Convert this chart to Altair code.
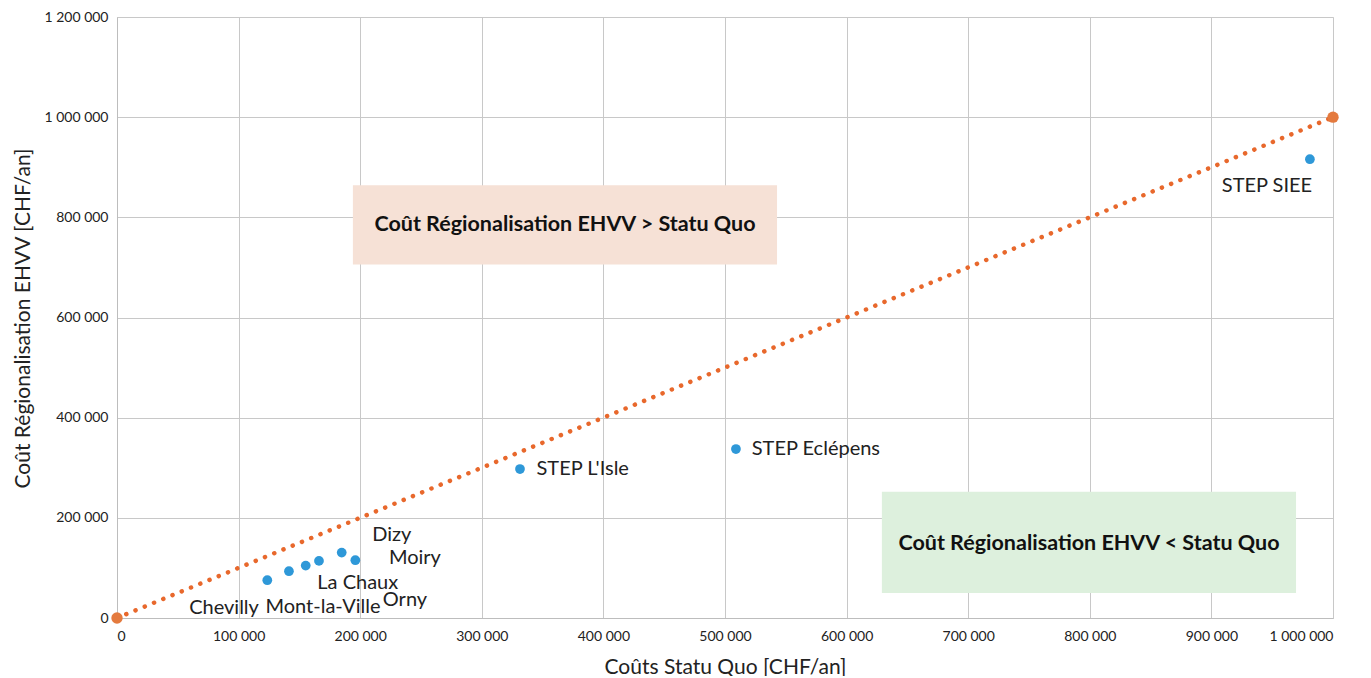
import altair as alt
import pandas as pd

# Points (Statu Quo cost, Regionalisation cost) in CHF/an
names = ["Chevilly", "Mont-la-Ville", "La Chaux", "Orny", "Dizy", "Moiry",
         "STEP L'Isle", "STEP Eclépens", "STEP SIEE"]
statu_quo = [123600, 141400, 155200, 166100, 184800, 196000, 331400, 509000, 981000]
regional = [75400, 93400, 104600, 114000, 130600, 115400, 297400, 337400, 916000]

# Label positions (data units) and alignment
label_text = ["Chevilly", "Mont-la-Ville", "La Chaux", "Orny", "Dizy", "Moiry",
              "STEP L'Isle", "STEP Eclépens", "STEP SIEE"]
label_x = [88000, 169400, 198000, 236800, 226000, 245000, 345000, 522000, 945700]
label_y = [20000, 22000, 70000, 36000, 166000, 120000, 298000, 338000, 862000]
label_align = ["center", "center", "center", "center", "center", "center",
               "left", "left", "center"]

# Parity line y = x
line_x = [0, 1000000]
line_y = [0, 1000000]

# Annotation boxes
box_x = [194000, 629000]
box_x2 = [542800, 969600]
box_y = [864000, 252000]
box_y2 = [706000, 50000]
box_fill = ["#F6E1D6", "#DDF0DD"]
box_text = ["Coût Régionalisation EHVV > Statu Quo", "Coût Régionalisation EHVV < Statu Quo"]
box_tx = [368400, 799300]
box_ty = [785000, 148000]

FONT = "Lato"
fmt = "replace(format(datum.value, ','), /,/g, ' ')"

xsc = alt.Scale(domain=[0, 1000000], nice=False)
ysc = alt.Scale(domain=[0, 1200000], nice=False)

pts = pd.DataFrame({"name": names, "x": statu_quo, "y": regional})
lbl = pd.DataFrame({"t": label_text, "x": label_x, "y": label_y, "a": label_align})
ln = pd.DataFrame({"x": line_x, "y": line_y})
bx = pd.DataFrame({"x": box_x, "x2": box_x2, "y": box_y, "y2": box_y2,
                   "fill": box_fill, "t": box_text, "tx": box_tx, "ty": box_ty})

xaxis = alt.Axis(values=list(range(0, 1000001, 100000)), labelExpr=fmt, ticks=False,
                 labelPadding=11, labelFontSize=14, labelFont=FONT, labelColor="#222",
                 title="Coûts Statu Quo [CHF/an]", titleFont=FONT, titleFontSize=21,
                 titleFontWeight="normal", titleColor="#222", titleY=49,
                 titleBaseline="middle",
                 gridColor="#C8C8C8", domainColor="#BDBDBD")
yaxis = alt.Axis(values=list(range(0, 1200001, 200000)), labelExpr=fmt, ticks=False,
                 labelPadding=9, labelFontSize=14, labelFont=FONT, labelColor="#222",
                 title="Coût Régionalisation EHVV [CHF/an]", titleFont=FONT, titleFontSize=21,
                 titleFontWeight="normal", titleColor="#222", titleX=-94, titleY=301,
                 titleBaseline="middle", titleAngle=270,
                 gridColor="#C8C8C8", domainColor="#BDBDBD")

base_x = alt.X("x:Q", scale=xsc, axis=xaxis)
base_y = alt.Y("y:Q", scale=ysc, axis=yaxis)

boxes = alt.Chart(bx).mark_rect().encode(
    x=alt.X("x:Q", scale=xsc, axis=xaxis), x2="x2", y=alt.Y("y:Q", scale=ysc, axis=yaxis), y2="y2",
    fill=alt.Fill("fill:N", scale=None))
box_labels = alt.Chart(bx).mark_text(font=FONT, fontSize=21.5, fontWeight="bold", color="#111").encode(
    x=alt.X("tx:Q", scale=xsc), y=alt.Y("ty:Q", scale=ysc), text="t:N")

parity = alt.Chart(ln).mark_line(color="#E8682C", strokeWidth=4.5, strokeCap="round",
                                 strokeDash=[0.1, 9.9]).encode(x=base_x, y=base_y)
ends = alt.Chart(ln).mark_circle(color="#E47A3E", size=130, opacity=1).encode(x=base_x, y=base_y)

points = alt.Chart(pts).mark_circle(color="#2E98D8", size=95, opacity=1).encode(x=base_x, y=base_y)

labels_c = alt.Chart(lbl).transform_filter("datum.a == 'center'").mark_text(
    font=FONT, fontSize=20, color="#222", align="center", baseline="middle").encode(
    x=alt.X("x:Q", scale=xsc), y=alt.Y("y:Q", scale=ysc), text="t:N")
labels_l = alt.Chart(lbl).transform_filter("datum.a == 'left'").mark_text(
    font=FONT, fontSize=20, color="#222", align="left", baseline="middle").encode(
    x=alt.X("x:Q", scale=xsc), y=alt.Y("y:Q", scale=ysc), text="t:N")

chart = alt.layer(boxes, box_labels, parity, ends, points, labels_c, labels_l).properties(
    width=1216, height=601,
    autosize=alt.AutoSizeParams(type="none"),
    padding={"left": 109, "top": 9, "right": 30, "bottom": 58},
).configure_view(stroke=None).configure(background="white")

chart.save("out.html", embed_options={"renderer": "svg", "actions": False})
